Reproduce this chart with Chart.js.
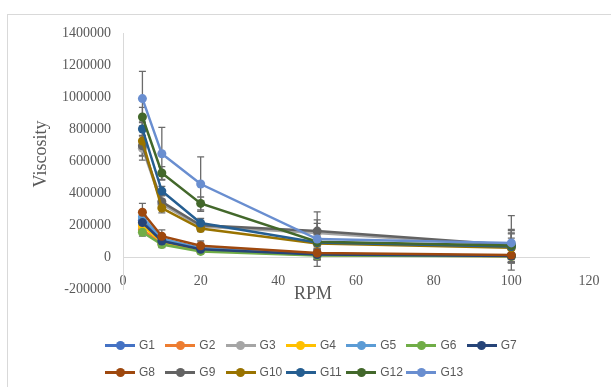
<!DOCTYPE html>
<html>
<head>
<meta charset="utf-8">
<script src="https://cdn.jsdelivr.net/npm/chart.js@4.4.1/dist/chart.umd.min.js"></script>
<style>
  html, body { margin: 0; padding: 0; background: #fff; }
  #wrap { position: relative; width: 611px; height: 387px; overflow: hidden; }
  #frame { position: absolute; left: 7px; top: 14px; width: 700px; height: 500px;
           border-left: 1px solid #d9d9d9; border-top: 1px solid #d9d9d9; }
  #chart { position: absolute; left: 0; top: 0; }
  #legend { position: absolute; left: 105px; top: 336px;
            display: grid; grid-template-columns: repeat(7, 60.3px); grid-auto-rows: 27px;
            font: 12px "Liberation Sans", Arial, sans-serif; color: #595959; }
  .item { display: flex; align-items: center; height: 18px; white-space: nowrap; }
  .swatch { position: relative; width: 30px; height: 18px; margin-right: 4px; }
  .swatch .ln { position: absolute; left: 0; right: 0; top: 8px; height: 2.5px; }
  .swatch .dot { position: absolute; left: 10.5px; top: 4.5px; width: 9px; height: 9px; border-radius: 50%; }
</style>
</head>
<body>
<div id="wrap">
  <div id="frame"></div>
  <canvas id="chart" width="611" height="387"></canvas>
  <div id="legend"></div>
</div>
<script>
// ── data ───────────────────────────────────────────────────────────
const rpm = [5, 10, 20, 50, 100];
const seriesNames = ['G1', 'G2', 'G3', 'G4', 'G5', 'G6', 'G7', 'G8', 'G9', 'G10', 'G11', 'G12', 'G13'];
const seriesColors = ['#4472C4', '#ED7D31', '#A5A5A5', '#FFC000', '#5B9BD5', '#70AD47', '#264478',
                      '#9E480E', '#636363', '#997300', '#255E91', '#43682B', '#698ED0'];

const g1  = [230000, 110000, 55000, 20000, 8000];
const g2  = [170000, 85000, 40000, 12000, 5000];
const g3  = [680000, 330000, 190000, 150000, 70000];
const g4  = [195000, 95000, 45000, 15000, 6000];
const g5  = [250000, 115000, 55000, 18000, 8000];
const g6  = [155000, 78000, 35000, 10000, 4000];
const g7  = [215000, 100000, 48000, 15000, 6000];
const g8  = [280000, 130000, 70000, 25000, 12000];
const g9  = [695000, 345000, 198000, 162000, 75000];
const g10 = [725000, 306000, 178000, 85000, 58000];
const g11 = [800000, 412000, 212000, 90000, 65000];
const g12 = [875000, 525000, 335000, 95000, 72000];
const g13 = [990000, 645000, 456000, 112000, 88000];

const err1  = [30000, 20000, 15000, 30000, 40000];
const err2  = [25000, 20000, 15000, 30000, 40000];
const err3  = [50000, 30000, 20000, 60000, 80000];
const err4  = [25000, 20000, 15000, 30000, 40000];
const err5  = [30000, 20000, 15000, 30000, 40000];
const err6  = [25000, 20000, 15000, 30000, 40000];
const err7  = [30000, 20000, 15000, 30000, 40000];
const err8  = [55000, 40000, 30000, 40000, 50000];
const err9  = [60000, 40000, 30000, 70000, 90000];
const err10 = [120000, 30000, 20000, 30000, 60000];
const err11 = [40000, 30000, 30000, 40000, 80000];
const err12 = [60000, 40000, 40000, 60000, 100000];
const err13 = [170000, 165000, 170000, 170000, 170000];

const yTicks = [-200000, 1400000, 200000]; // min, max, step
const xTicks = [0, 120, 20];

const seriesValues = [g1, g2, g3, g4, g5, g6, g7, g8, g9, g10, g11, g12, g13];
const seriesErrors = [err1, err2, err3, err4, err5, err6, err7, err8, err9, err10, err11, err12, err13];

// ── plugins ────────────────────────────────────────────────────────
const errorBars = {
  id: 'errorBars',
  beforeDatasetsDraw(chart) {
    const { ctx, scales: { x, y } } = chart;
    ctx.save();
    ctx.strokeStyle = '#6b6b6b';
    ctx.lineWidth = 1.3;
    seriesValues.forEach((vals, i) => {
      vals.forEach((v, j) => {
        const px = x.getPixelForValue(rpm[j]);
        const top = y.getPixelForValue(v + seriesErrors[i][j]);
        const bot = y.getPixelForValue(v - seriesErrors[i][j]);
        ctx.beginPath();
        ctx.moveTo(px, top); ctx.lineTo(px, bot);
        ctx.moveTo(px - 3.5, top); ctx.lineTo(px + 3.5, top);
        ctx.moveTo(px - 3.5, bot); ctx.lineTo(px + 3.5, bot);
        ctx.stroke();
      });
    });
    ctx.restore();
  }
};

const axisTitles = {
  id: 'axisTitles',
  afterDraw(chart) {
    const { ctx } = chart;
    ctx.save();
    ctx.fillStyle = '#595959';
    ctx.font = '18px "Liberation Serif", "Times New Roman", serif';
    ctx.textAlign = 'center';
    ctx.textBaseline = 'middle';
    ctx.fillText('RPM', 313, 294);
    ctx.translate(41, 154);
    ctx.rotate(-Math.PI / 2);
    ctx.fillText('Viscosity', 0, 0);
    ctx.restore();
  }
};

// ── chart ──────────────────────────────────────────────────────────
const tickFont = { family: '"Liberation Serif", "Times New Roman", serif', size: 14 };

const chart = new Chart(document.getElementById('chart').getContext('2d'), {
  type: 'line',
  data: {
    datasets: seriesNames.map((name, i) => ({
      label: name,
      data: rpm.map((r, j) => ({ x: r, y: seriesValues[i][j] })),
      borderColor: seriesColors[i],
      backgroundColor: seriesColors[i],
      pointBackgroundColor: seriesColors[i],
      pointBorderColor: seriesColors[i],
      borderWidth: 2.5,
      pointRadius: 4.5,
      pointBorderWidth: 0,
      tension: 0,
      order: seriesNames.length - i
    }))
  },
  options: {
    responsive: false,
    animation: false,
    layout: { padding: { left: 8, right: 22, top: 33, bottom: 98 } },
    plugins: { legend: { display: false }, tooltip: { enabled: false } },
    scales: {
      x: {
        type: 'linear',
        position: { y: 0 },
        min: xTicks[0], max: xTicks[1],
        afterFit: s => { s.paddingLeft = 0; s.paddingRight = 0; },
        ticks: { stepSize: xTicks[2], color: '#595959', font: tickFont, padding: 16, maxRotation: 0 },
        grid: { display: false, drawTicks: false },
        border: { color: '#d9d9d9', width: 1 }
      },
      y: {
        min: yTicks[0], max: yTicks[1],
        afterFit: s => { s.width = 115; },
        ticks: { stepSize: yTicks[2], color: '#595959', font: tickFont, padding: 12, callback: v => String(v) },
        grid: { display: false, drawTicks: false },
        border: { color: '#d9d9d9', width: 1 }
      }
    }
  },
  plugins: [errorBars, axisTitles]
});

// ── legend (Excel-style grid) ──────────────────────────────────────
const legend = document.getElementById('legend');
seriesNames.forEach((name, i) => {
  const item = document.createElement('div');
  item.className = 'item';
  if (i === 7) item.style.gridColumnStart = 1;
  item.innerHTML = `<span class="swatch"><span class="ln" style="background:${seriesColors[i]}"></span>` +
                   `<span class="dot" style="background:${seriesColors[i]}"></span></span>${name}`;
  legend.appendChild(item);
});
</script>
</body>
</html>
